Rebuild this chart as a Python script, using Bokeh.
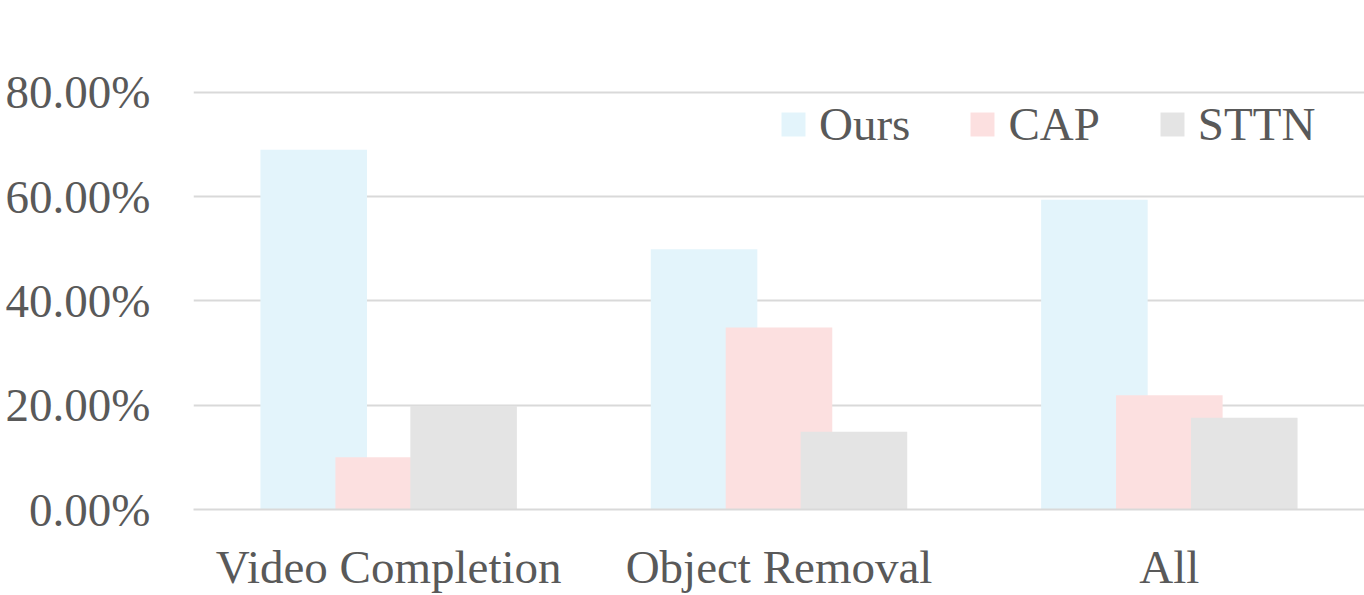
from bokeh.plotting import figure
from bokeh.models import Range1d, FixedTicker, Legend, LegendItem, ColumnDataSource
from bokeh.embed import file_html
from bokeh.resources import INLINE
import numpy as np

categories = ["Video Completion", "Object Removal", "All"]
ours = [69.0, 49.9, 59.4]
cap = [10.0, 34.9, 21.9]
sttn = [19.9, 14.9, 17.6]
y_ticks = [0, 20, 40, 60, 80]
y_tick_labels = ["0.00%", "20.00%", "40.00%", "60.00%", "80.00%"]
series_names = ["Ours", "CAP", "STTN"]
colors = ["#E3F4FB", "#FCE0E0", "#E4E4E4"]

FONT = "Liberation Serif"
TEXT = "#595959"
GRID = "#D9D9D9"

centers = np.arange(len(categories)) + 0.5
bar_w = 0.273
step = 0.192

p = figure(width=1364, height=595, output_backend="svg", toolbar_location=None,
           x_range=Range1d(0, 3.0), y_range=Range1d(0, 97.6),
           min_border_left=193, min_border_right=0, min_border_top=0, min_border_bottom=0)
p.outline_line_color = None
p.background_fill_color = "white"
p.border_fill_color = "white"

renderers = []
for i, (vals, col) in enumerate(zip([ours, cap, sttn], colors)):
    src = ColumnDataSource(dict(x=centers + (i - 1) * step, top=vals))
    r = p.vbar(x="x", top="top", width=bar_w, bottom=0, source=src,
               fill_color=col, line_color=None)
    renderers.append(r)

# y axis
p.yaxis.ticker = FixedTicker(ticks=y_ticks)
p.yaxis.major_label_overrides = {t: l for t, l in zip(y_ticks, y_tick_labels)}
p.yaxis.axis_line_color = None
p.yaxis.major_tick_line_color = None
p.yaxis.minor_tick_line_color = None
p.yaxis.major_label_text_font = FONT
p.yaxis.major_label_text_font_size = "47px"
p.yaxis.major_label_text_color = TEXT
p.yaxis.major_label_standoff = 37

# x axis
p.xaxis.ticker = FixedTicker(ticks=list(centers))
p.xaxis.major_label_overrides = {float(c): n for c, n in zip(centers, categories)}
p.xaxis.axis_line_color = GRID
p.xaxis.axis_line_width = 2
p.xaxis.major_tick_line_color = None
p.xaxis.minor_tick_line_color = None
p.xaxis.major_label_text_font = FONT
p.xaxis.major_label_text_font_size = "47px"
p.xaxis.major_label_text_color = TEXT
p.xaxis.major_label_standoff = 25

p.xgrid.grid_line_color = None
p.ygrid.ticker = FixedTicker(ticks=y_ticks[1:])
p.ygrid.grid_line_color = GRID
p.ygrid.grid_line_width = 2

legend = Legend(items=[LegendItem(label=n, renderers=[r]) for n, r in zip(series_names, renderers)],
                orientation="horizontal", location=(585, 358),
                label_text_font=FONT, label_text_font_size="47px", label_text_color=TEXT,
                glyph_width=30, glyph_height=30, label_standoff=11, spacing=57,
                padding=0, margin=0, border_line_color=None, background_fill_alpha=0)
p.add_layout(legend)

open("out.html", "w").write(file_html(p, INLINE))
